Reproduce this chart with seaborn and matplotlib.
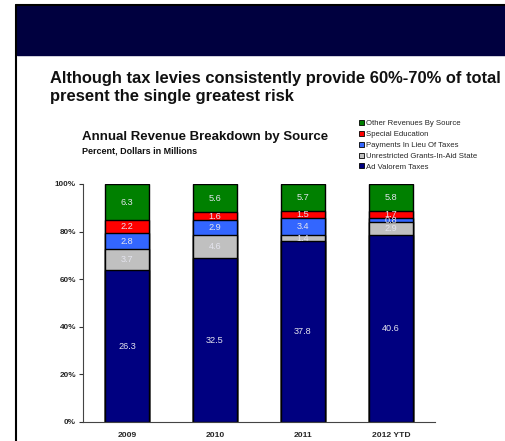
import matplotlib
matplotlib.use("Agg")
import matplotlib.pyplot as plt
import seaborn as sns
import numpy as np
import pandas as pd
from matplotlib.patches import Rectangle
from matplotlib.lines import Line2D

# data (dollars in millions)
years = ["2009", "2010", "2011", "2012 YTD"]
sources = ["Ad Valorem Taxes", "Unrestricted Grants-In-Aid State",
           "Payments In Lieu Of Taxes", "Special Education",
           "Other Revenues By Source"]
ad_valorem = [26.3, 32.5, 37.8, 40.6]
grants = [3.7, 4.6, 1.4, 2.9]
pilot = [2.8, 2.9, 3.4, 0.8]
special_ed = [2.2, 1.6, 1.5, 1.7]
other = [6.3, 5.6, 5.7, 5.8]
colors = ["#000080", "#C0C0C0", "#3366FF", "#FF0000", "#008000"]

sns.set_style("white")
plt.rcParams["font.family"] = ["Liberation Sans", "DejaVu Sans"]

values = np.array([ad_valorem, grants, pilot, special_ed, other])
pct = values / values.sum(axis=0) * 100
cum = np.cumsum(pct, axis=0)

fig = plt.figure(figsize=(5.06, 4.41), dpi=100)

# slide banner and border
fig.patches.append(Rectangle((17/506, 1-55/441), 1, 50/441, transform=fig.transFigure,
                             color="#00003F", zorder=0))
fig.add_artist(Line2D([16.5/506, 1], [1-5/441, 1-5/441], color="black", lw=1.5))
fig.add_artist(Line2D([16.5/506, 16.5/506], [0, 1-5/441], color="black", lw=1.5))

fig.text(50/506, 1-78/441, "Although tax levies consistently provide 60%-70% of total",
         fontsize=11.9, fontweight="bold", va="center", color="#111111")
fig.text(50/506, 1-97/441, "present the single greatest risk",
         fontsize=11.9, fontweight="bold", va="center", color="#111111")
fig.text(82/506, 1-137/441, "Annual Revenue Breakdown by Source",
         fontsize=9.55, fontweight="bold", va="center", color="#111111")
fig.text(82/506, 1-151/441, "Percent, Dollars in Millions",
         fontsize=6.5, fontweight="bold", va="center", color="#111111")

ax = fig.add_axes([83/506, 19/441, 352/506, 238/441])

# draw stacked layers from the top down
for i in range(len(sources) - 1, -1, -1):
    df = pd.DataFrame({"year": years, "cum": cum[i]})
    sns.barplot(data=df, x="year", y="cum", color=colors[i], width=0.5,
                edgecolor="black", linewidth=1.0, saturation=1, ax=ax)

for i in range(len(sources)):
    for j in range(len(years)):
        y = cum[i, j] - pct[i, j] / 2
        ax.text(j, y, f"{values[i, j]:.1f}", ha="center", va="center",
                color="#E4E4EE", fontsize=6.6)

ax.set_xlim(-0.5, 3.5)
ax.set_ylim(0, 100)
ax.set_xlabel("")
ax.set_ylabel("")
ax.set_yticks([0, 20, 40, 60, 80, 100])
ax.set_yticklabels([f"{t}%" for t in [0, 20, 40, 60, 80, 100]], fontsize=5.9, fontweight="bold")
ax.set_xticks([0, 1, 2, 3])
ax.set_xticklabels(years, fontsize=6.1, fontweight="bold")
ax.set_xticks([-0.5, 0.5, 1.5, 2.5, 3.5], minor=True)
ax.tick_params(axis="x", which="major", length=0, pad=7)
ax.tick_params(axis="x", which="minor", length=3, direction="out", color="#333333")
ax.tick_params(axis="y", length=3, direction="out", color="#333333", pad=2, left=True)
for s in ["top", "right"]:
    ax.spines[s].set_visible(False)
for s in ["left", "bottom"]:
    ax.spines[s].set_color("#444444")
    ax.spines[s].set_linewidth(0.8)

handles = [Rectangle((0, 0), 1, 1, facecolor=colors[i], edgecolor="black", linewidth=0.6)
           for i in range(len(sources) - 1, -1, -1)]
fig.legend(handles, sources[::-1], loc="upper left", bbox_to_anchor=(359/506, 1-120/441),
           frameon=False, fontsize=5.6, handlelength=0.6, handleheight=0.6,
           handletextpad=0.3, labelspacing=0.47, borderpad=0, borderaxespad=0)

fig.savefig("out.png", dpi=100)
